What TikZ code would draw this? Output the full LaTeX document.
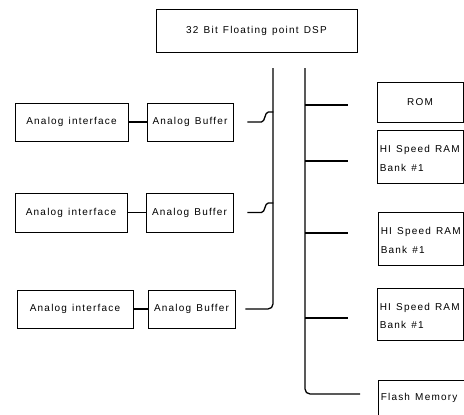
\documentclass[tikz,border=0pt]{standalone}
\usepackage{fontspec}
\setmainfont{Liberation Sans}[LetterSpace=12, WordSpace=1.3]
\begin{document}
\begin{tikzpicture}[x=1pt,y=-1pt,
  box/.style={draw, line width=0.8pt, inner sep=0pt, font=\fontsize{10}{12}\selectfont},
  memtext/.style={anchor=west, align=left, inner xsep=3pt, inner ysep=0pt, yshift=-2pt, font=\fontsize{10}{18.5}\selectfont},
  wire/.style={line width=1.3pt}]
\useasboundingbox (0,0) rectangle (464,415);
\clip (0,0) rectangle (464,415);

% top DSP box
\node[box, minimum width=201pt, minimum height=43pt] (dsp) at (256.5,30.5) {32 Bit Floating point DSP};

% analog chains
\node[box, minimum width=113pt, minimum height=38pt] (ai1) at (71.5,122) {Analog interface};
\node[box, minimum width=86pt, minimum height=38pt] (ab1) at (190,122) {Analog Buffer};
\node[box, minimum width=112pt, minimum height=39pt] (ai2) at (71,212.5) {Analog interface};
\node[box, minimum width=87pt, minimum height=39pt] (ab2) at (189.5,212.5) {Analog Buffer};
\node[box, minimum width=116pt, minimum height=38pt] (ai3) at (75,309) {Analog interface};
\node[box, minimum width=87pt, minimum height=38pt] (ab3) at (191.5,309) {Analog Buffer};

\draw[wire] (ai1) -- (ab1);
\draw[wire] (ai2) -- (ab2);
\draw[wire] (ai3) -- (ab3);

% buses
\coordinate (busL) at (273,68);
\coordinate (busR) at (305,68);

\draw[wire] ([xshift=14pt]ab1.east) -- ++(14,0) .. controls +(4,0) and +(-4,0) .. ++(7,-10) -- ++(5,0);
\draw[wire] ([xshift=14pt]ab2.east) -- ++(14,0) .. controls +(4,0) and +(-4,0) .. ++(7,-9.5) -- ++(5,0);
\draw[wire, rounded corners=5pt] ([xshift=10pt]ab3.east) -- (busL |- ab3.east) -- (busL);

% memory boxes
\node[box, minimum width=86pt, minimum height=40pt] (rom) at (420,102) {ROM};
\node[box, minimum width=86pt, minimum height=53pt, label={[memtext]west:HI Speed RAM\\Bank \#1}] (ram1) at (420,156.5) {};
\node[box, minimum width=85pt, minimum height=53pt, label={[memtext]west:HI Speed RAM\\Bank \#1}] (ram2) at (420.5,238.5) {};
\node[box, minimum width=86pt, minimum height=52pt, label={[memtext]west:HI Speed RAM\\Bank \#1}] (ram3) at (420,314) {};
\node[box, minimum width=90pt, minimum height=36pt, label={[memtext, yshift=2pt]west:Flash Memory}] (flash) at (423,398) {};

\coordinate (b1) at (348,105);
\coordinate (b2) at (348,161);
\coordinate (b3) at (348,233);
\coordinate (b4) at (348,318);
\coordinate (bf) at (360,394);

\draw[wire] (busR |- b1) -- (b1);
\draw[wire] (busR |- b2) -- (b2);
\draw[wire] (busR |- b3) -- (b3);
\draw[wire] (busR |- b4) -- (b4);
\draw[wire, rounded corners=5pt] (busR) -- (busR |- bf) -- (bf);
\end{tikzpicture}
\end{document}
